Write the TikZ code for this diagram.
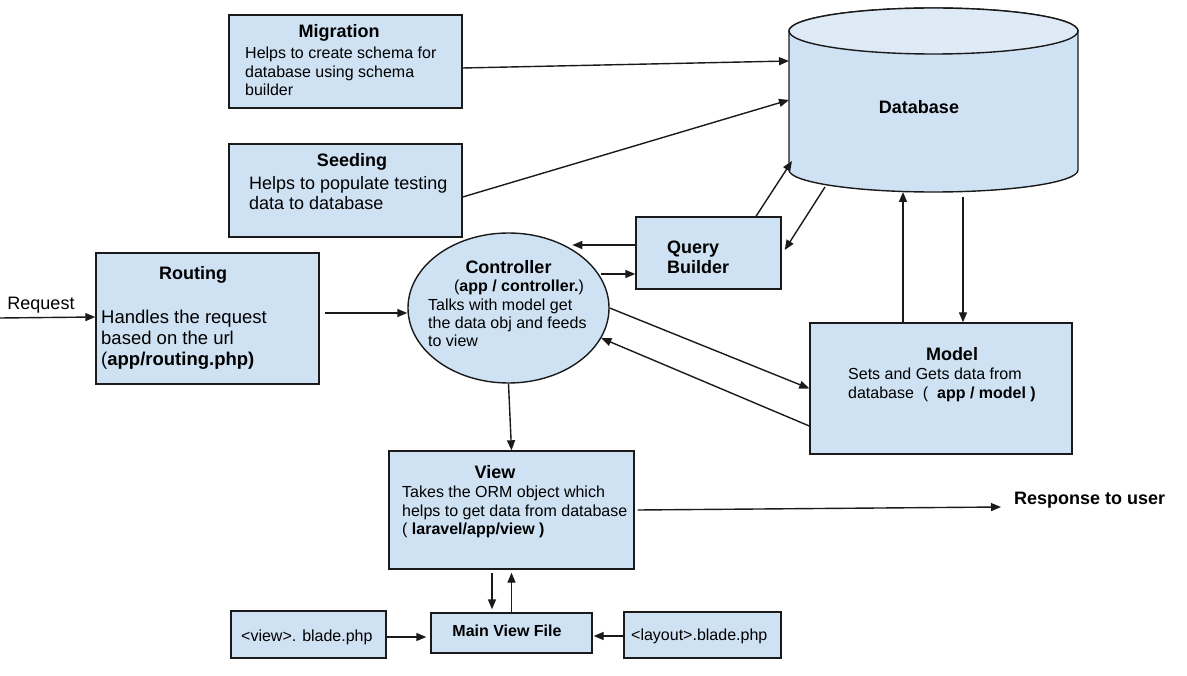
\documentclass[tikz,border=0pt]{standalone}
\usepackage{fontspec}
\setmainfont{Liberation Sans}
\usepackage{xcolor}
\usepackage{tikz}
\usetikzlibrary{shapes.geometric,arrows.meta}
\definecolor{boxblue}{HTML}{CFE2F3}
\definecolor{topblue}{HTML}{DEEAF6}
\definecolor{edge}{HTML}{1A1A1A}
\newcommand{\fsz}[2]{\fontsize{#1}{#2}\selectfont}

\begin{document}
\begin{tikzpicture}[x=1pt, y=-1pt,
  box/.style={draw=edge, line width=1.4pt, fill=boxblue, inner sep=0pt},
  txt/.style={anchor=north west, align=left, inner sep=0pt},
  ttl/.style={inner sep=0pt, font=\fsz{18}{20}\bfseries},
  arr/.style={draw=edge, line width=1.4pt, -{Triangle[length=10pt,width=8pt]}}]
\useasboundingbox (0,0) rectangle (1187,676);
\node[box, minimum width=233, minimum height=93] (mig) at (345.5,61.5) {};
\node[ttl] (migT) at (339,33) {Migration};
\node[txt, font=\fsz{16}{18.5}] (migB) at (245,47) {Helps to create schema for\\database using schema\\builder};
\node[box, minimum width=233, minimum height=93] (seed) at (345.5,190.5) {};
\node[ttl] (seedT) at (352,162) {Seeding};
\node[txt, font=\fsz{18}{20}] (seedB) at (249,176) {Helps to populate testing\\data to database};
\node[box, minimum width=223, minimum height=131] (rout) at (207.5,318.5) {};
\node[ttl] (routT) at (193,275) {Routing};
\node[txt, font=\fsz{18.5}{21}] (routB) at (101,310) {Handles the request\\based on the url\\(\textbf{app/routing.php)}};
\node[box, ellipse, minimum width=201, minimum height=150] (ctrl) at (508.5,308) {};
\node[ttl] (ctrlT) at (508.5,267) {Controller};
\node[inner sep=0pt, font=\fsz{16}{18}] (ctrlP) at (519,287) {(\textbf{app / controller.})};
\node[txt, font=\fsz{16}{18}] (ctrlB) at (428,299) {Talks with model get\\the data obj and feeds\\to view};
\node[box, minimum width=145, minimum height=72] (qb) at (708.5,253) {};
\node[txt, font=\fsz{18}{20}\bfseries] (qbT) at (667,241) {Query\\Builder};
\draw[edge, line width=1.4pt, fill=boxblue] (789,31) -- (789,170)
  arc[start angle=180, end angle=360, x radius=144.5pt, y radius=22pt] -- (1078,31)
  arc[start angle=0, end angle=180, x radius=144.5pt, y radius=23pt] -- cycle;
\draw[edge, line width=1.4pt, fill=topblue] (933.5,31) ellipse [x radius=144.5pt, y radius=23pt];
\node[ttl] (db) at (919,107) {Database};
\coordinate (dbMig) at (789,61);
\coordinate (dbSeed) at (789,100);
\coordinate (dbQin) at (792,161);
\coordinate (dbQout) at (825,187);
\coordinate (dbMin) at (903,192);
\coordinate (dbMout) at (963,197);
\node[box, minimum width=262, minimum height=131] (model) at (941,388.5) {};
\node[ttl] (modelT) at (952,354) {Model};
\node[txt, font=\fsz{16}{19}] (modelB) at (848,368) {Sets and Gets data from\\database~~(~~\textbf{app / model )}};
\node[box, minimum width=245, minimum height=118] (view) at (511.5,510) {};
\node[ttl] (viewT) at (495,472) {View};
\node[txt, font=\fsz{16}{18.5}] (viewB) at (402,486) {Takes the ORM object which\\helps to get data from database\\( \textbf{laravel/app/view )}};
\node[box, minimum width=161, minimum height=40] (mvf) at (511.5,633) {};
\node[inner sep=0pt, font=\fsz{16}{18}\bfseries] (mvfT) at (507,631) {Main View File};
\node[box, minimum width=155, minimum height=47] (vblade) at (308.5,634.5) {};
\node[txt, anchor=west, font=\fsz{16}{18}] (vbladeT) at (241,637) {<view>. blade.php};
\node[box, minimum width=157, minimum height=46] (lblade) at (702.5,635) {};
\node[txt, anchor=west, font=\fsz{16}{18}] (lbladeT) at (631,636) {<layout>.blade.php};
\node[inner sep=0pt, font=\fsz{18}{20}] (req) at (41,305) {Request};
\coordinate (reqIn) at (0,318);
\node[inner sep=0pt, anchor=west, font=\fsz{18}{20}\bfseries] (resp) at (1014,500) {Response to user};
\draw[arr] ([yshift=-6.5pt]mig.east) -- (dbMig);
\draw[arr] ([yshift=-6.5pt]seed.east) -- (dbSeed);
\draw[arr] ([xshift=47.5pt]qb.north) -- (dbQin);
\draw[arr] (dbQout) -- ([xshift=3pt,yshift=3pt]qb.east);
\draw[arr] ([yshift=8pt]qb.west) -- ++(-63,0);
\draw[arr] ([xshift=-34pt,yshift=-21pt]qb.west) -- ([yshift=-21pt]qb.west);
\draw[arr] (reqIn) -- ([yshift=1.5pt]rout.west);
\draw[arr] ([xshift=5pt,yshift=5.5pt]rout.east) -- ([yshift=-5pt]ctrl.west);
\draw[arr] (ctrl.east) -- (model.west);
\draw[arr] ([yshift=-37.5pt]model.west) -- (ctrl.-18);
\draw[arr] ([xshift=-38pt]model.north) -- (dbMin);
\draw[arr] (dbMout) -- ([xshift=22pt]model.north);
\draw[arr] (ctrl.south) -- (view.north);
\draw[arr] ([xshift=3pt]view.east) -- ([xshift=-13pt,yshift=-7pt]resp.west);
\draw[arr] ([xshift=-19.5pt,yshift=-3pt]view.south) -- ([xshift=-19.5pt,yshift=3pt]mvf.north);
\draw[arr] (mvf.north) -- ([yshift=-3pt]view.south);
\draw[arr] ([yshift=-2.5pt]vblade.east) -- ([xshift=-4pt,yshift=-4pt]mvf.west);
\draw[arr] ([yshift=-1pt]lblade.west) -- ([xshift=1pt,yshift=-3pt]mvf.east);
\end{tikzpicture}
\end{document}
